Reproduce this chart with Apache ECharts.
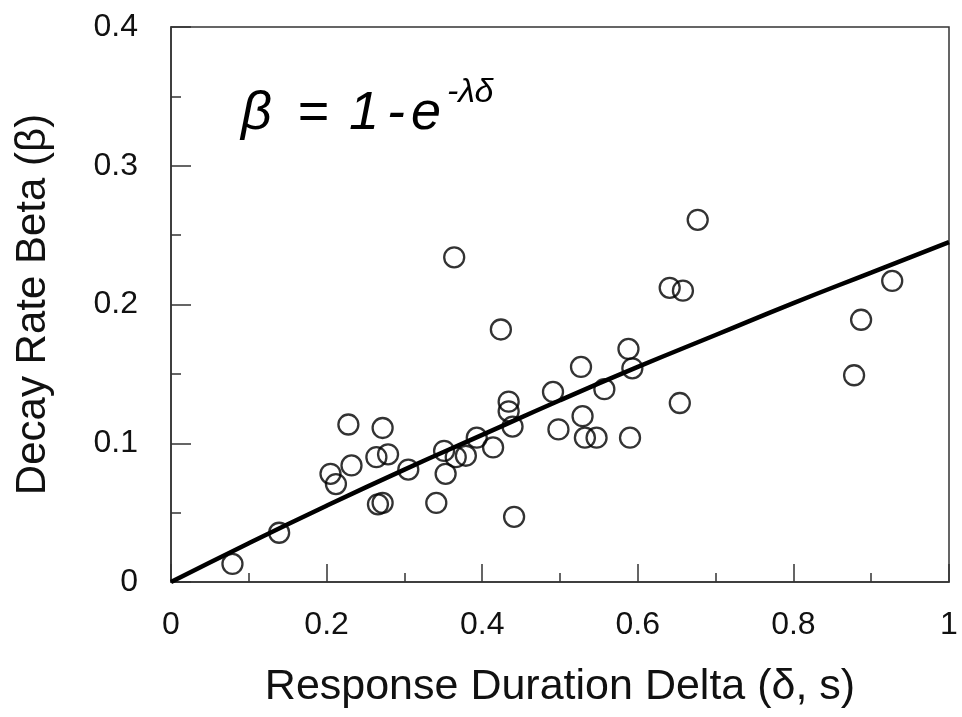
<!DOCTYPE html>
<html>
<head>
<meta charset="utf-8">
<script src="https://cdn.jsdelivr.net/npm/echarts@6/dist/echarts.min.js"></script>
<style>
  html, body { margin: 0; padding: 0; background: #fff; }
  #chart { width: 962px; height: 717px; }
</style>
</head>
<body>
<div id="chart"></div>
<script>
// observed points: response duration delta (s) vs decay rate beta
const deltaValues = [
  0.079, 0.139, 0.205, 0.212, 0.228, 0.232, 0.264, 0.272, 0.279, 0.266,
  0.272, 0.305, 0.341, 0.351, 0.353, 0.364, 0.366, 0.379, 0.393, 0.414,
  0.424, 0.434, 0.434, 0.439, 0.441, 0.491, 0.498, 0.527, 0.529, 0.532,
  0.547, 0.557, 0.588, 0.593, 0.590, 0.641, 0.658, 0.654, 0.677, 0.878,
  0.887, 0.927
];
const betaValues = [
  0.013, 0.0355, 0.078, 0.0706, 0.1135, 0.084, 0.090, 0.111, 0.092, 0.056,
  0.057, 0.081, 0.057, 0.0945, 0.078, 0.234, 0.090, 0.091, 0.104, 0.097,
  0.182, 0.130, 0.123, 0.112, 0.047, 0.137, 0.110, 0.155, 0.1195, 0.104,
  0.104, 0.139, 0.168, 0.154, 0.104, 0.212, 0.210, 0.129, 0.261, 0.149,
  0.189, 0.217
];

// fitted curve
const fitDelta = [0, 0.1, 0.2, 0.3, 0.4, 0.5, 0.6, 0.7, 0.8, 0.9, 1.0];
const fitBeta = [0, 0.028, 0.055, 0.081, 0.106, 0.131, 0.155, 0.178, 0.201, 0.223, 0.245];

const xTitle = 'Response Duration Delta (δ, s)';
const yTitle = 'Decay Rate Beta (β)';
// formula pieces: β = 1 - e^(-λδ)
const formulaParts = ['β', '=', '1', '-', 'e'];
const formulaExp = '-λδ';

const font = 'Liberation Sans, Arial, Helvetica, sans-serif';
const formulaX = [241, 297, 349, 387, 411]; // left edge of each piece

const chart = echarts.init(document.getElementById('chart'), null, { renderer: 'canvas' });

const formulaGraphic = formulaParts.map((t, i) => ({
  type: 'text', x: formulaX[i], y: 114,
  style: { text: t, font: 'italic 54px ' + font, fill: '#000', verticalAlign: 'middle' }
}));
formulaGraphic.push({
  type: 'text', x: 447, y: 93,
  style: { text: formulaExp, font: 'italic 34px ' + font, fill: '#000', verticalAlign: 'middle' }
});

const option = {
  backgroundColor: '#fff',
  animation: false,
  grid: {
    left: 171, right: 13, top: 27, bottom: 135,
    show: true, borderColor: '#333', borderWidth: 1.5, backgroundColor: 'transparent'
  },
  xAxis: {
    type: 'value', min: 0, max: 1, interval: 0.2,
    name: xTitle, nameLocation: 'middle', nameGap: 84,
    nameTextStyle: { fontFamily: font, fontSize: 43, color: '#111' },
    axisLine: { show: true, lineStyle: { color: '#333', width: 1.5 } },
    axisTick: { show: true, inside: true, length: 18, lineStyle: { color: '#333', width: 1.5 } },
    minorTick: { show: true, splitNumber: 2, length: 9, lineStyle: { color: '#333', width: 1.5 } },
    axisLabel: { fontFamily: font, fontSize: 32, color: '#111', margin: 27 },
    splitLine: { show: false }
  },
  yAxis: {
    type: 'value', min: 0, max: 0.4, interval: 0.1,
    name: yTitle, nameLocation: 'middle', nameGap: 117, nameRotate: 90,
    nameTextStyle: { fontFamily: font, fontSize: 42, color: '#111' },
    axisLine: { show: true, lineStyle: { color: '#333', width: 1.5 } },
    axisTick: { show: true, inside: true, length: 20, lineStyle: { color: '#333', width: 1.5 } },
    minorTick: { show: true, splitNumber: 2, length: 10, lineStyle: { color: '#333', width: 1.5 } },
    axisLabel: { fontFamily: font, fontSize: 32, color: '#111', margin: 33 },
    splitLine: { show: false }
  },
  series: [
    {
      type: 'line',
      data: fitDelta.map((d, i) => [d, fitBeta[i]]),
      smooth: true,
      showSymbol: false,
      lineStyle: { color: '#000', width: 4.5 },
      z: 3
    },
    {
      type: 'scatter',
      data: deltaValues.map((d, i) => [d, betaValues[i]]),
      symbol: 'circle',
      symbolSize: 20,
      itemStyle: { color: 'transparent', borderColor: '#000', borderWidth: 2.3 },
      z: 4
    }
  ],
  graphic: formulaGraphic
};

chart.setOption(option);
</script>
</body>
</html>
